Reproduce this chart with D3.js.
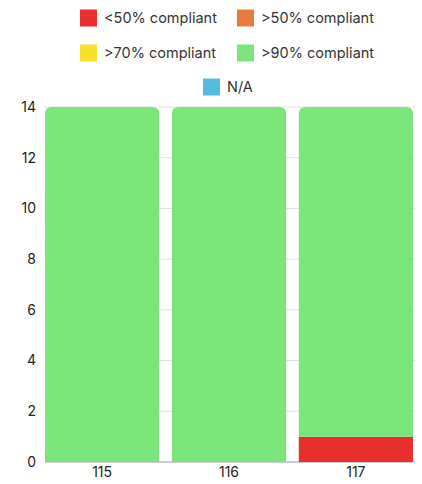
<!DOCTYPE html>
<html><head><meta charset="utf-8">
<script src="https://cdn.jsdelivr.net/npm/d3@7"></script>
<style>body{margin:0;background:#fff;font-family:Inter, "Open Sans", sans-serif;}</style>
</head><body><svg id="c" width="422" height="484"></svg>
<script>
const categories = ["115", "116", "117"];
const seriesNames = ["<50% compliant", ">50% compliant", ">70% compliant", ">90% compliant", "N/A"];
const seriesColors = ["#E92E2E", "#E87C3E", "#F8E12A", "#7AE57A", "#56BBE1"];
const below50 = [0, 0, 1];
const above50 = [0, 0, 0];
const above70 = [0, 0, 0];
const above90 = [14, 14, 13];
const na = [0, 0, 0];
const yTicks = [0, 2, 4, 6, 8, 10, 12, 14];

const seriesValues = [below50, above50, above70, above90, na];
const svg = d3.select("#c");
const m = {l: 45, r: 9, t: 107, b: 22};
const W = 422, H = 484;
const x = d3.scaleBand().domain(categories).range([m.l, W - m.r]).paddingInner(0.1).paddingOuter(0);
const y = d3.scaleLinear().domain([0, 14]).range([H - m.b, m.t]);

// grid
svg.append("g").selectAll("line").data(yTicks).join("line")
  .attr("x1", m.l).attr("x2", W - m.r + 2)
  .attr("y1", d => y(d)).attr("y2", d => y(d))
  .attr("stroke", d => d === 0 ? "#bbb" : "#e0e0e0").attr("stroke-width", d => d === 0 ? 1.5 : 1);

// y labels
svg.append("g").selectAll("text").data(yTicks).join("text")
  .attr("x", 36).attr("y", d => y(d)).attr("dy", "0.35em")
  .attr("text-anchor", "end").attr("font-size", 14).attr("fill", "#222").text(d => d);

// x labels
svg.append("g").selectAll("text").data(categories).join("text")
  .attr("x", d => x(d) + x.bandwidth() / 2).attr("y", H - m.b + 15)
  .attr("text-anchor", "middle").attr("font-size", 14).attr("fill", "#222").text(d => d);

// stacked bars
const r = 7;
categories.forEach((c, i) => {
  let base = 0;
  const segs = [];
  seriesValues.forEach((vals, s) => {
    const v = vals[i];
    if (v > 0) { segs.push({s, y0: base, y1: base + v}); base += v; }
  });
  segs.forEach((seg, k) => {
    const x0 = x(c), w = x.bandwidth();
    const top = y(seg.y1), bot = y(seg.y0);
    const isTop = k === segs.length - 1;
    let p;
    if (isTop) {
      p = `M${x0},${bot} L${x0},${top + r} Q${x0},${top} ${x0 + r},${top} L${x0 + w - r},${top} Q${x0 + w},${top} ${x0 + w},${top + r} L${x0 + w},${bot} Z`;
    } else {
      p = `M${x0},${bot} L${x0},${top} L${x0 + w},${top} L${x0 + w},${bot} Z`;
    }
    svg.append("path").attr("d", p).attr("fill", seriesColors[seg.s]);
  });
});

// legend
const legendPos = [
  {x: 80, y: 18}, {x: 237, y: 18},
  {x: 80, y: 53}, {x: 237, y: 53},
  {x: 203, y: 87}
];
const lg = svg.append("g");
seriesNames.forEach((n, i) => {
  const p = legendPos[i];
  lg.append("rect").attr("x", p.x).attr("y", p.y - 8.5).attr("width", 17).attr("height", 17).attr("fill", seriesColors[i]);
  lg.append("text").attr("x", p.x + 24).attr("y", p.y).attr("dy", "0.35em")
    .attr("font-size", 14.5).attr("fill", "#333").text(n);
});
</script></body></html>
